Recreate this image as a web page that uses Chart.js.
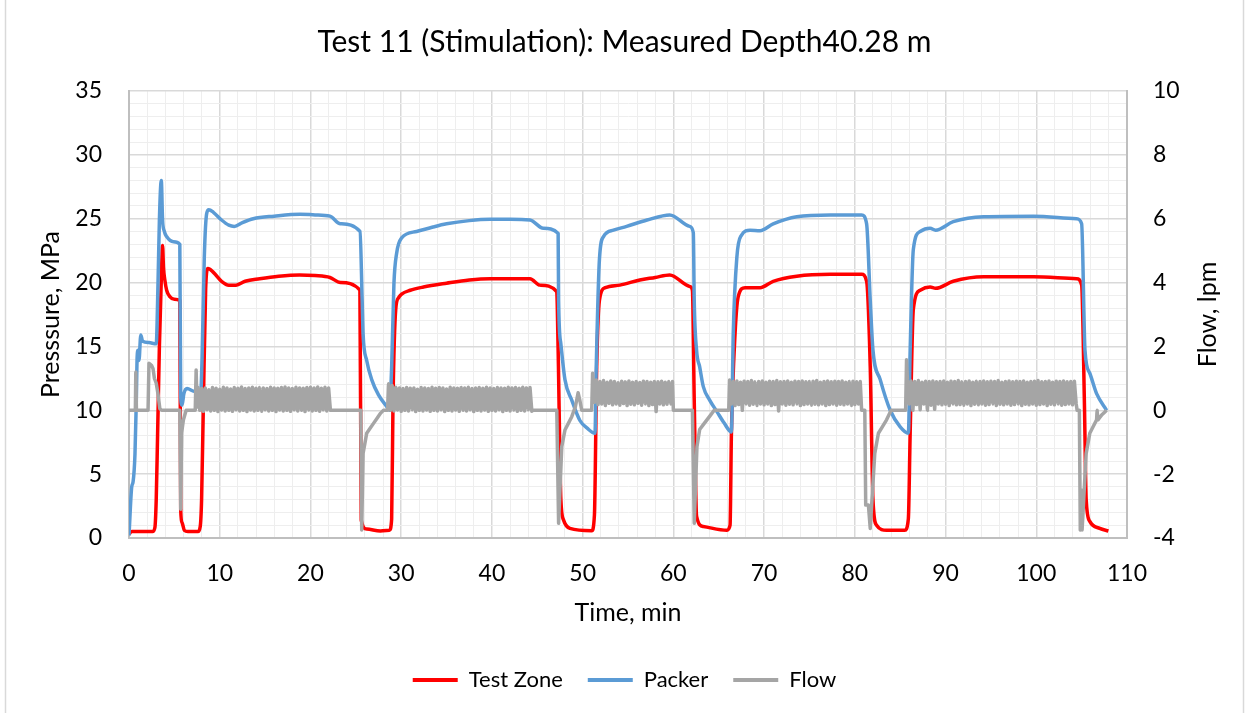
<!DOCTYPE html>
<html lang="en">
<head>
    <meta charset="UTF-8">
    <title>Test 11 (Stimulation)</title>
    <script src="https://cdn.jsdelivr.net/npm/chart.js"></script>
    <style>
        body { margin: 0; background: #fff; }
        .chart-container { width: 1249px; height: 713px; position: relative; }
    </style>
</head>
<body>
    <div class="chart-container">
        <canvas id="testChart"></canvas>
    </div>

    <script>
    // Test zone pressure [time min, MPa]
    const testZone = [
        [0.0,0.3],[0.3,0.5],[2.6,0.5],[2.85,0.8],[3.0,3],[3.15,8],[3.35,15.0],[3.55,20],[3.7,22.9],[3.8,21.2],
        [3.95,20.2],[4.15,19.4],[4.5,18.9],[5.0,18.7],[5.6,18.6],[5.7,2.2],[5.85,1.2],[6.1,0.6],[6.5,0.5],[7.6,0.5],
        [7.85,0.9],[8.0,3],[8.2,10.6],[8.45,19.5],[8.7,21.1],[9.3,20.8],[10.2,20.1],[11.0,19.8],[11.8,19.8],[12.8,20.1],
        [14.4,20.3],[16.5,20.5],[18.8,20.6],[20.5,20.55],[22.15,20.4],[23.3,20.0],[25.45,19.4],[25.6,1.4],[26.2,0.7],[27.7,0.55],
        [28.7,0.6],[28.95,1.5],[29.1,10.8],[29.4,17.9],[29.7,18.8],[30.05,19.1],[31.0,19.4],[32.45,19.65],[35.0,19.95],[37.5,20.2],
        [39.8,20.3],[42.0,20.3],[44.2,20.3],[45.3,19.8],[47.14,19.3],[47.3,14.7],[47.6,3.0],[47.9,1.4],[48.6,0.75],[51.0,0.57],
        [51.3,1.8],[51.55,13.4],[51.85,18.6],[52.5,19.6],[54.1,19.8],[56.3,20.2],[58.0,20.4],[59.6,20.6],[61.8,19.7],[62.1,19.4],
        [62.3,10.8],[62.56,1.7],[63.3,0.9],[65.9,0.6],[66.25,1.0],[66.4,8.2],[66.8,16],[67.15,18.9],[67.9,19.6],[69.55,19.6],
        [71.0,20.1],[73.6,20.5],[77.3,20.65],[80.75,20.65],[81.3,20.1],[81.7,13.4],[82.0,3.0],[82.4,1.0],[83.5,0.6],[85.5,0.6],
        [85.9,1.5],[86.1,8.2],[86.45,17.9],[87.2,19.4],[88.3,19.65],[88.9,19.55],[90.85,20.1],[94.2,20.45],[99.7,20.45],[104.45,20.3],
        [105.0,19.8],[105.3,10.8],[105.5,3.0],[105.9,1.3],[107.0,0.75],[107.95,0.55]
    ];

    // Packer pressure [time min, MPa]
    const packer = [
        [0,0.2],[0.3,4.0],[0.45,4.4],[0.66,6.6],[0.8,10.5],[0.9,14.2],[1.0,14.7],[1.1,13.9],[1.3,15.9],[1.5,15.4],
        [2.2,15.3],[3.0,15.2],[3.2,20],[3.35,24.9],[3.56,28.0],[3.7,24.9],[3.9,24.0],[4.15,23.6],[4.9,23.2],[5.6,23.0],
        [5.7,11.0],[5.85,10.4],[6.05,11.3],[6.4,11.7],[7.1,11.5],[7.9,11.4],[8.05,14],[8.3,22],[8.56,25.4],[8.8,25.7],
        [9.3,25.5],[10.2,24.9],[11.0,24.5],[11.6,24.4],[12.5,24.7],[13.7,25.0],[16.0,25.2],[18.85,25.35],[20.5,25.3],[22.15,25.2],
        [23.3,24.6],[25.46,24.0],[25.7,18.6],[25.8,16.0],[26.2,13.9],[26.75,12.4],[27.5,11.2],[28.4,10.3],[28.7,10.0],[28.95,13.4],
        [29.2,19.9],[29.5,22.3],[30.05,23.5],[31.7,24.0],[33.5,24.35],[35.0,24.6],[37.5,24.85],[39.8,24.95],[42.0,24.95],[44.2,24.9],
        [45.66,24.25],[47.3,23.85],[47.35,18.6],[47.6,15.2],[48.05,12.4],[48.8,10.8],[49.7,9.2],[50.5,8.6],[51.36,8.2],[51.5,13.4],
        [51.85,21.8],[52.3,23.6],[53.4,24.1],[54.85,24.4],[57.1,24.9],[59.6,25.3],[61.8,24.4],[62.2,23.9],[62.3,18.6],[62.56,14.7],
        [62.9,13.4],[63.3,11.85],[64.0,10.8],[64.8,9.9],[65.6,9.0],[66.4,8.3],[66.6,16.0],[67.0,22.0],[67.5,23.7],[68.45,24.1],
        [69.55,24.06],[71.0,24.6],[73.6,25.16],[77.3,25.3],[80.75,25.3],[81.3,24.6],[81.7,18.6],[82.0,14.7],[82.8,12.4],[83.9,10.0],
        [85.0,8.7],[85.9,8.2],[86.1,14.7],[86.45,22.6],[87.2,24.0],[88.3,24.25],[88.9,24.1],[90.85,24.77],[94.2,25.16],[99.7,25.2],
        [104.45,25.0],[105.0,24.6],[105.37,14.7],[105.9,12.9],[106.65,11.3],[107.75,10.0]
    ];

    // Flow between injection pulses [time min, lpm]
    const flowGap0 = [[0,0],[0.7,0],[0.75,1.2],[0.82,0],[2.1,0],[2.2,1.47],[2.5,1.4],[2.65,1.3],[2.8,1.0],[3.0,0.85],
        [3.2,0.5],[3.4,0.05],[3.6,0],[5.6,0],[5.7,-3.1],[5.8,-0.7],[6.0,-0.3],[6.3,0],[7.3,0],[7.4,1.26],[7.5,0.1]];
    const flowGap1 = [[22.45,0],[25.55,0],[25.65,-3.75],[25.8,-1.35],[26.2,-0.72],[26.95,-0.41],[27.7,-0.1],[28.05,0],[28.5,0]];
    const flowGap2 = [[44.5,0],[47.15,0],[47.35,-3.54],[47.7,-1.14],[48.05,-0.62],[48.8,-0.2],[49.2,0.11],[49.5,0.55],[49.7,0.3],[49.9,0],[51.0,0]];
    const flowGap3 = [[60.0,0],[62.1,0],[62.3,-3.54],[62.6,-1.14],[62.9,-0.6],[63.7,-0.3],[64.5,0],[66.1,0]];
    const flowGap4 = [[80.75,0],[81.1,0],[81.2,-2.97],[81.5,-2.97],[81.7,-3.7],[82.2,-1.35],[82.6,-0.72],[83.5,-0.3],[84.0,0],[85.6,0],[85.7,1.58]];
    const flowGap5 = [[104.5,0],[104.75,0],[104.85,-3.75],[104.95,-2.5],[105.05,-3.75],[105.5,-1.35],[105.9,-0.72],[106.65,-0.3],
        [106.7,0],[106.8,-0.3],[107.2,-0.15],[107.75,0]];

    // Flow logged during injection pulses, one sample every 0.2 min (lpm)
    const flowStep = 0.2;
    const flowPulseStart = [7.6, 28.6, 51.1, 66.2, 85.8];
    const flowPulse1 = [
        0.72,0.0,0.68,-0.03,0.7,0.02,0.64,-0.02,0.71,0.0,0.69,-0.04,0.66,0.01,0.72,-0.02,0.7,0.0,0.67,-0.03,
        0.71,0.02,0.69,-0.02,0.73,0.0,0.68,-0.04,0.7,0.01,0.72,-0.02,0.69,0.0,0.71,-0.03,0.7,0.02,0.68,-0.02,
        0.72,0.0,0.7,-0.04,0.69,0.01,0.71,-0.02,0.73,0.0,0.7,-0.03,0.68,0.02,0.72,-0.02,0.7,0.0,0.69,-0.04,
        0.71,0.01,0.72,-0.02,0.7,0.0,0.73,-0.03,0.69,0.02,0.72,-0.02,0.7,0.0
    ];
    const flowPulse2 = [
        0.83,0.0,0.78,-0.02,0.72,0.01,0.7,-0.03,0.68,0.0,0.71,-0.02,0.69,0.02,0.7,-0.04,0.66,0.0,0.71,-0.02,
        0.7,0.01,0.68,-0.03,0.72,0.0,0.69,-0.02,0.71,0.02,0.7,-0.04,0.67,0.0,0.72,-0.02,0.7,0.01,0.69,-0.03,
        0.71,0.0,0.7,-0.02,0.72,0.02,0.68,-0.04,0.7,0.0,0.71,-0.02,0.69,0.01,0.72,-0.03,0.7,0.0,0.68,-0.02,
        0.71,0.02,0.7,-0.04,0.69,0.0,0.72,-0.02,0.7,0.01,0.71,-0.03,0.69,0.0,0.72,-0.02,0.7,0.02,0.71,-0.03
    ];
    const flowPulse3 = [
        1.16,0.25,0.95,0.18,0.9,0.2,0.93,0.15,0.88,0.22,0.92,0.17,0.9,0.2,0.86,0.16,0.91,0.21,0.89,0.15,
        0.92,0.19,0.88,0.17,0.9,0.22,0.87,0.16,0.91,0.2,0.9,0.15,0.88,0.18,0.9,-0.04,0.89,0.2,0.91,0.17,
        0.88,0.19,0.9,0.2,0.9
    ];
    const flowPulse4 = [
        0.95,0.2,0.9,0.15,0.92,0.18,0.88,0.0,0.91,0.2,0.9,0.16,0.93,0.19,0.89,0.15,0.9,0.2,0.92,0.17,
        0.88,0.2,0.91,0.15,0.9,0.18,0.93,-0.02,0.89,0.2,0.9,0.16,0.92,0.19,0.88,0.17,0.91,0.2,0.9,0.15,
        0.92,0.18,0.89,0.2,0.9,0.16,0.91,0.19,0.93,0.17,0.88,0.2,0.9,0.15,0.92,0.18,0.89,0.2,0.91,0.16,
        0.9,0.19,0.92,0.17,0.88,0.2,0.9,0.15,0.91,0.18,0.89,0.2,0.9
    ];
    const flowPulse5 = [
        0.95,0.2,0.92,0.0,0.9,0.18,0.93,0.02,0.88,0.2,0.91,0.0,0.9,0.16,0.92,0.03,0.89,0.2,0.9,0.17,
        0.92,0.19,0.88,0.15,0.91,0.2,0.9,0.17,0.93,0.18,0.89,0.16,0.9,0.2,0.92,0.15,0.88,0.19,0.91,0.17,
        0.9,0.2,0.92,0.16,0.89,0.18,0.91,0.2,0.9,0.15,0.93,0.19,0.88,0.17,0.9,0.2,0.92,0.16,0.89,0.18,
        0.91,0.2,0.9,0.15,0.92,0.19,0.88,0.17,0.9,0.2,0.91,0.16,0.93,0.18,0.89,0.2,0.9,0.15,0.92,0.19,
        0.88,0.17,0.91,0.2,0.9,0.16,0.92,0.18,0.89,0.2,0.9,0.17,0.91,0.2
    ];

    // axis ranges
    const timeRange = [0, 110];
    const pressureRange = [0, 35];
    const flowRange = [-4, 10];

    const toXY = (pairs) => pairs.map(p => ({ x: p[0], y: p[1] }));

    function pulseToXY(start, values) {
        return values.map((v, i) => ({ x: +(start + i * flowStep).toFixed(2), y: v }));
    }

    const gaps = [flowGap0, flowGap1, flowGap2, flowGap3, flowGap4, flowGap5];
    const pulses = [flowPulse1, flowPulse2, flowPulse3, flowPulse4, flowPulse5];
    let flowData = [];
    gaps.forEach((gap, i) => {
        flowData = flowData.concat(toXY(gap));
        if (i < pulses.length) flowData = flowData.concat(pulseToXY(flowPulseStart[i], pulses[i]));
    });

    const MAJOR = '#d9d9d9';
    const MINOR = '#eeeeee';
    const AXIS = '#bfbfbf';
    const FONT = 'Lato, "Open Sans", sans-serif';

    Chart.defaults.font.family = FONT;
    Chart.defaults.color = '#000';

    // white background plus the outer frame lines
    const frame = {
        id: 'frame',
        beforeDraw(chart) {
            const ctx = chart.ctx;
            ctx.save();
            ctx.fillStyle = '#fff';
            ctx.fillRect(0, 0, chart.width, chart.height);
            ctx.strokeStyle = '#d9d9d9';
            ctx.lineWidth = 1.5;
            ctx.beginPath();
            ctx.moveTo(5.5, 0); ctx.lineTo(5.5, chart.height);
            ctx.moveTo(chart.width - 5.5, 0); ctx.lineTo(chart.width - 5.5, chart.height);
            ctx.stroke();
            ctx.restore();
        }
    };

    // right axis title reads bottom-to-top like the left one
    const flowTitle = {
        id: 'flowTitle',
        afterDraw(chart) {
            const ctx = chart.ctx;
            const area = chart.chartArea;
            ctx.save();
            ctx.translate(chart.scales.y1.right - 41, (area.top + area.bottom) / 2);
            ctx.rotate(-Math.PI / 2);
            ctx.font = '25px ' + FONT;
            ctx.fillStyle = '#000';
            ctx.textAlign = 'center';
            ctx.textBaseline = 'middle';
            ctx.fillText('Flow, lpm', 0, 0);
            ctx.restore();
        }
    };

    new Chart(document.getElementById('testChart').getContext('2d'), {
        type: 'line',
        data: {
            datasets: [
                {
                    label: 'Test Zone',
                    data: toXY(testZone),
                    borderColor: '#ff0000',
                    backgroundColor: '#ff0000',
                    borderWidth: 3.5,
                    cubicInterpolationMode: 'monotone',
                    yAxisID: 'y',
                    order: 3
                },
                {
                    label: 'Packer',
                    data: toXY(packer),
                    borderColor: '#5b9bd5',
                    backgroundColor: '#5b9bd5',
                    borderWidth: 3.5,
                    cubicInterpolationMode: 'monotone',
                    yAxisID: 'y',
                    order: 2
                },
                {
                    label: 'Flow',
                    data: flowData,
                    borderColor: '#a5a5a5',
                    backgroundColor: '#a5a5a5',
                    borderWidth: 3.5,
                    tension: 0.0001,
                    yAxisID: 'y1',
                    order: 1
                }
            ]
        },
        options: {
            responsive: true,
            maintainAspectRatio: false,
            animation: false,
            layout: { padding: { top: 0, left: 0, right: 0, bottom: 12 } },
            elements: {
                point: { radius: 0 },
                line: { fill: false, borderJoinStyle: 'round' }
            },
            plugins: {
                tooltip: { enabled: false },
                title: {
                    display: true,
                    text: 'Test 11 (Stimulation): Measured Depth40.28 m',
                    font: { size: 30, weight: 'normal' },
                    color: '#000',
                    padding: { top: 24, bottom: 31 }
                },
                legend: {
                    position: 'bottom',
                    labels: {
                        font: { size: 22 },
                        color: '#000',
                        boxWidth: 45,
                        boxHeight: 4,
                        padding: 25,
                        sort: (a, b) => a.datasetIndex - b.datasetIndex,
                        generateLabels: (chart) => Chart.defaults.plugins.legend.labels.generateLabels(chart)
                            .map(item => Object.assign(item, { lineWidth: 0 }))
                    }
                }
            },
            scales: {
                x: {
                    type: 'linear',
                    min: timeRange[0],
                    max: timeRange[1],
                    afterFit: (scale) => { scale.height = 106; },
                    ticks: {
                        stepSize: 2,
                        autoSkip: false,
                        maxRotation: 0,
                        padding: 22,
                        font: { size: 23 },
                        callback: (v) => v % 10 === 0 ? v : ''
                    },
                    grid: {
                        drawTicks: false,
                        color: (c) => c.tick && c.tick.value % 10 === 0 ? MAJOR : MINOR,
                        lineWidth: (c) => c.tick && c.tick.value % 10 === 0 ? 1.5 : 1
                    },
                    border: { color: AXIS, width: 2 },
                    title: {
                        display: true,
                        text: 'Time, min',
                        font: { size: 25 },
                        padding: { top: 0, bottom: 16 }
                    }
                },
                y: {
                    position: 'left',
                    min: pressureRange[0],
                    max: pressureRange[1],
                    afterFit: (scale) => { scale.width = 129; },
                    ticks: {
                        stepSize: 1,
                        autoSkip: false,
                        padding: 27,
                        font: { size: 23 },
                        callback: (v) => v % 5 === 0 ? v : ''
                    },
                    grid: {
                        drawTicks: false,
                        color: (c) => c.tick && c.tick.value % 5 === 0 ? MAJOR : MINOR,
                        lineWidth: (c) => c.tick && c.tick.value % 5 === 0 ? 1.5 : 1
                    },
                    border: { color: AXIS, width: 2 },
                    title: {
                        display: true,
                        text: 'Presssure, MPa',
                        font: { size: 25 },
                        padding: { top: 36, bottom: 0 }
                    }
                },
                y1: {
                    position: 'right',
                    min: flowRange[0],
                    max: flowRange[1],
                    afterFit: (scale) => { scale.width = 122; },
                    ticks: {
                        stepSize: 2,
                        autoSkip: false,
                        padding: 26,
                        font: { size: 23 }
                    },
                    grid: { drawOnChartArea: false, drawTicks: false },
                    border: { color: AXIS, width: 2 }
                }
            }
        },
        plugins: [frame, flowTitle]
    });
    </script>
</body>
</html>
